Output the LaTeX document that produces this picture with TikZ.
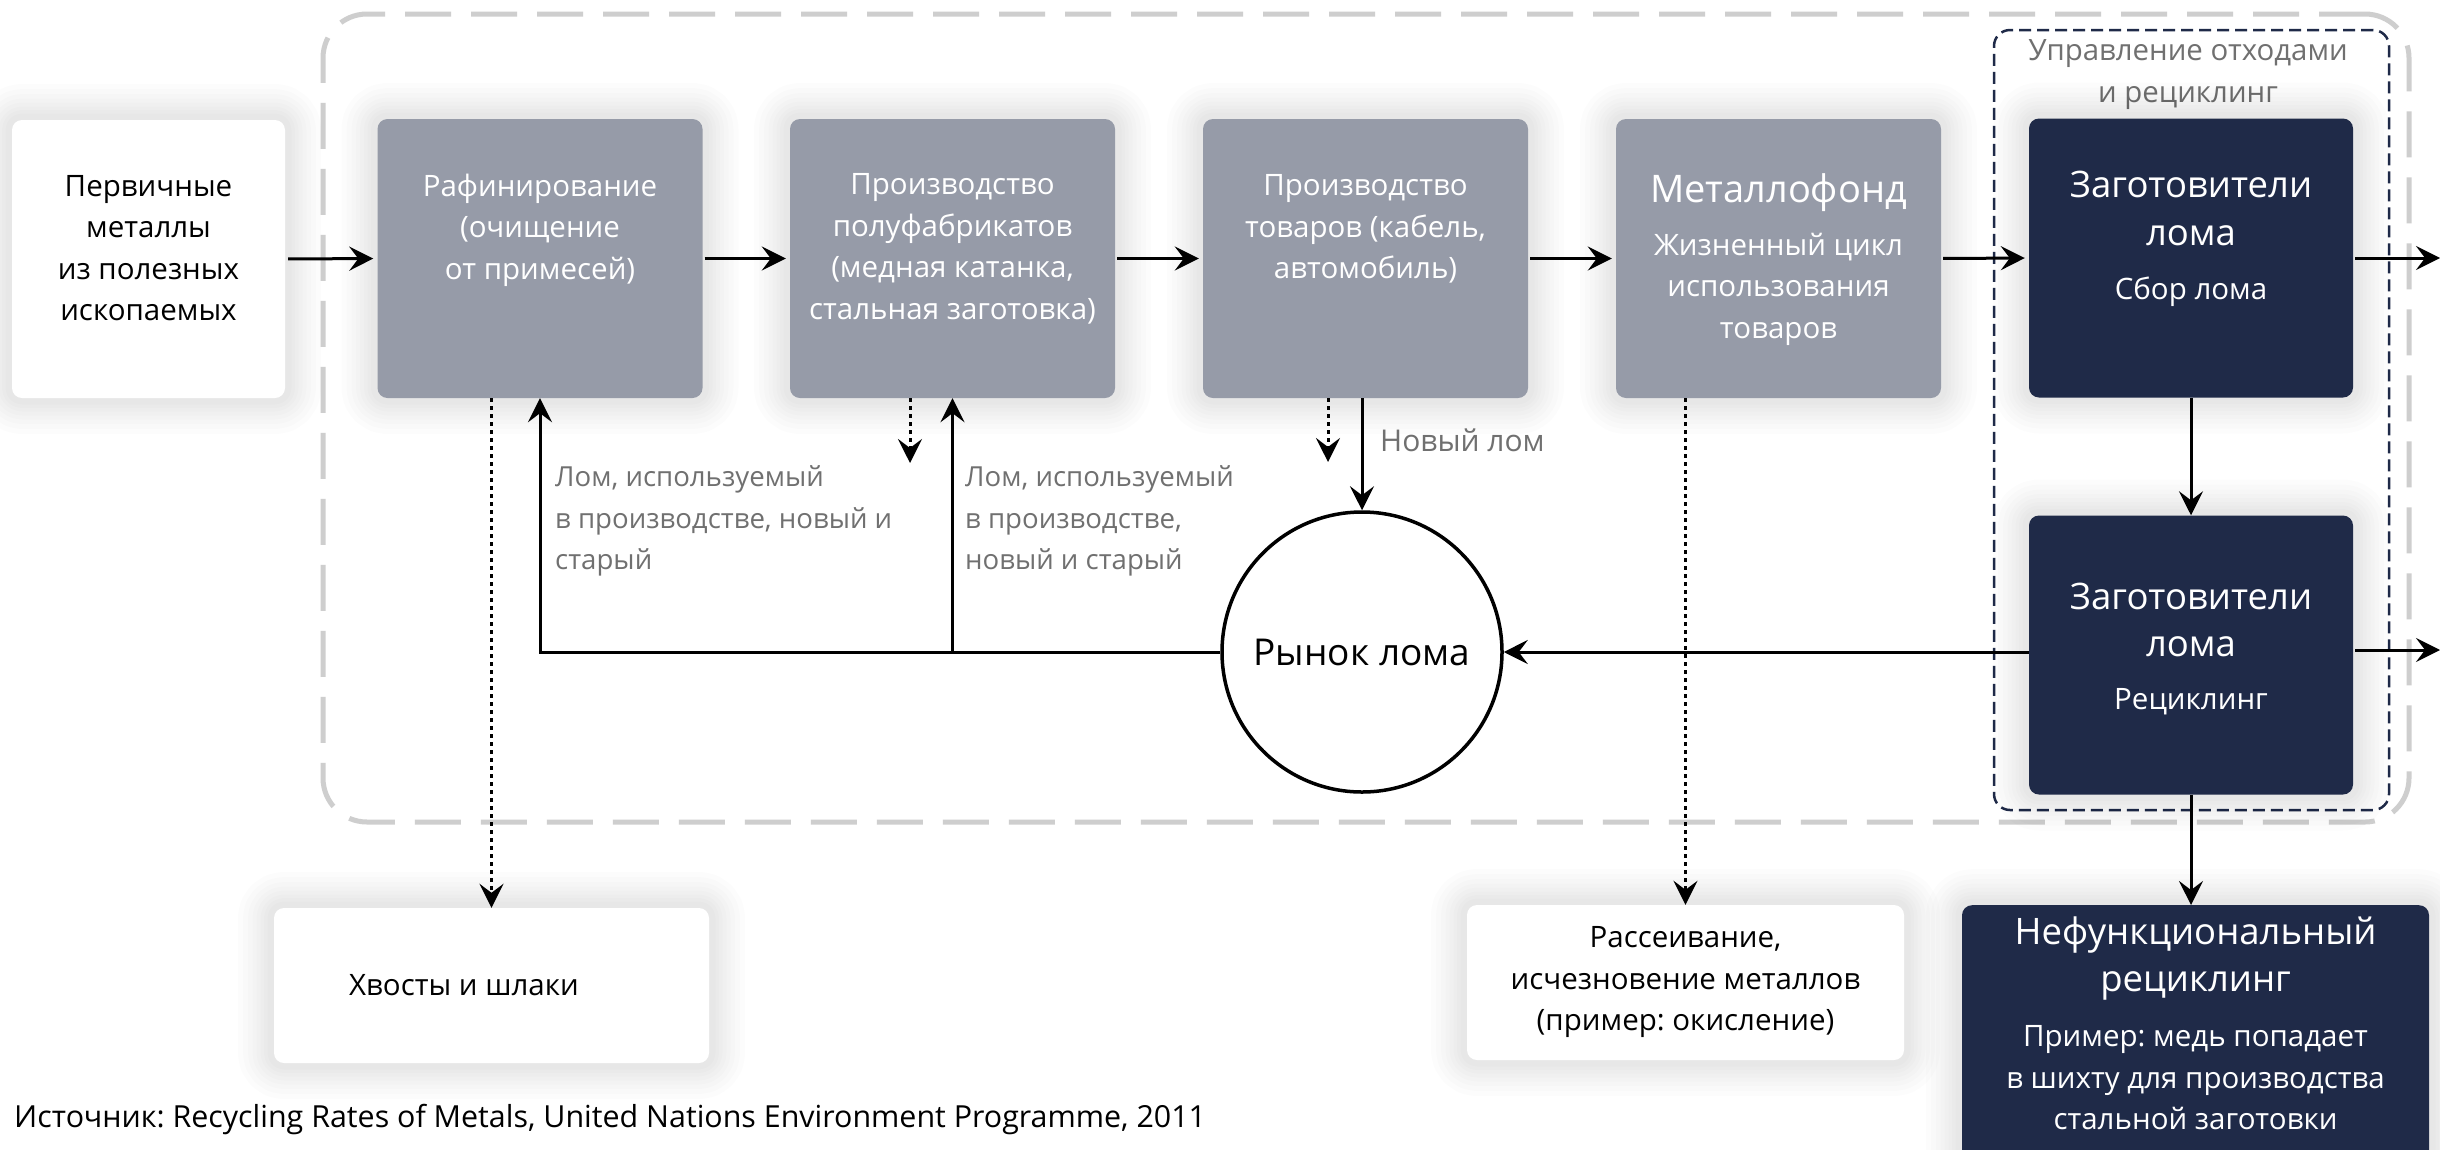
\documentclass[tikz,border=0pt]{standalone}
\usepackage{fontspec}
\setmainfont{Open Sans}
\frenchspacing
\usetikzlibrary{arrows.meta,calc}
\definecolor{boxgray}{RGB}{150,155,168}
\definecolor{navy}{RGB}{31,42,72}
\definecolor{lblgray}{RGB}{112,112,112}
\definecolor{framegray}{RGB}{206,206,206}
\begin{document}
\begin{tikzpicture}[x=1pt,y=-1pt,
  gl/.style={preaction={draw=black,draw opacity=0.013,line width=#1,line join=round}},
  shad/.style={gl=72pt,gl=62pt,gl=52pt,gl=43pt,gl=35pt,gl=27pt,gl=20pt,gl=13pt},
  boxbase/.style={rectangle,rounded corners=10pt,inner sep=0pt,shad},
  gbox/.style={boxbase,fill=boxgray,minimum width=325pt,minimum height=279pt},
  nbox/.style={boxbase,fill=navy,minimum width=324pt,minimum height=279pt},
  wbox/.style={boxbase,fill=white},
  body/.style={align=center,inner sep=0pt,font=\fontsize{29.5}{41.5}\selectfont},
  wbody/.style={body,text=white},
  ttl/.style={align=center,inner sep=0pt,text=white,font=\fontsize{36.5}{47.5}\selectfont},
  lbl/.style={align=left,inner sep=0pt,text=lblgray,font=\fontsize{27.6}{41.5}\selectfont},
  arr/.style={line width=3pt,-{Stealth[length=24pt,width=24pt,inset=9pt]}},
  dotarr/.style={arr,dash pattern=on 4pt off 4pt},
  outerframe/.style={draw=framegray,line width=5pt,dash pattern=on 46pt off 20pt,rounded corners=44pt,inner sep=0pt},
  wasteframe/.style={draw=navy,line width=2.5pt,dash pattern=on 12pt off 6pt,rounded corners=16pt,inner sep=0pt}
]
\fill[white] (0,0) rectangle (2440,1149);
\useasboundingbox (0,0) rectangle (2440,1149);

% frames
\node[outerframe,minimum width=2086pt,minimum height=808pt] (core) at (1366,418) {};
\node[wasteframe,minimum width=395pt,minimum height=780pt] (waste) at (2191.5,420) {};
\node[lbl,align=center,font=\fontsize{29.4}{42}\selectfont] (waste-t) at (2188,75) {Управление отходами\\и рециклинг};

% top row
\node[wbox,minimum width=273pt,minimum height=278pt] (prim) at (148.5,259) {};
\node[gbox] (ref) at (540,258.5) {};
\node[gbox] (semi) at (952.5,258.5) {};
\node[gbox] (goods) at (1365.5,258.5) {};
\node[gbox] (stock) at (1778.5,258.5) {};
\node[nbox] (coll) at (2191,258) {};
\node[nbox] (recy) at (2191,655) {};

% bottom row
\node[wbox,minimum width=435pt,minimum height=155pt] (tails) at (491.5,985.5) {};
\node[wbox,minimum width=437pt,minimum height=155pt] (disp) at (1685.5,982.5) {};
\node[boxbase,fill=navy,minimum width=467pt,minimum height=270pt,anchor=north] (nonf) at (2195.5,905) {};

% market
\node[circle,draw,line width=3.5pt,fill=white,minimum size=280pt,inner sep=0pt,font=\fontsize{37}{46}\selectfont] (mkt) at (1362,652) {Рынок лома};

% texts
\node[body] (prim-t) at (148.5,248) {Первичные\\металлы\\из полезных\\ископаемых};
\node[wbody] (ref-t) at (540,230) {Рафинирование\\(очищение\\от примесей)};
\node[wbody] (semi-t) at (952.5,249) {Производство\\полуфабрикатов\\(медная катанка,\\стальная заготовка)};
\node[wbody] (goods-t) at (1365.5,229) {Производство\\товаров (кабель,\\автомобиль)};
\node[ttl,font=\fontsize{38}{47.5}\selectfont] (stock-h) at (1778.5,193) {Металлофонд};
\node[wbody] (stock-t) at (1778.5,289) {Жизненный цикл\\использования\\товаров};
\node[ttl] (coll-h) at (2191,208.5) {Заготовители\\лома};
\node[wbody] (coll-t) at (2191,292) {Сбор лома};
\node[ttl] (recy-h) at (2191,620) {Заготовители\\лома};
\node[wbody] (recy-t) at (2191,702) {Рециклинг};
\node[ttl] (nonf-h) at (2195.5,958.5) {Нефункциональный\\рециклинг};
\node[wbody] (nonf-t) at (2195.5,1078) {Пример: медь попадает\\в шихту для производства\\стальной заготовки};
\node[body] (disp-t) at (1685.5,982) {Рассеивание,\\исчезновение металлов\\(пример: окисление)};
\node[body] (tails-t) at (464,985) {Хвосты и шлаки};

% labels
\node[lbl,anchor=west] (lab1) at (555,521) {Лом, используемый\\в производстве, новый и\\старый};
\node[lbl,anchor=west] (lab2) at (965,521) {Лом, используемый\\в производстве,\\новый и старый};
\node[lbl,anchor=west,font=\fontsize{30}{41.5}\selectfont] (lab3) at (1380,440) {Новый лом};
\node[body,anchor=west,align=left,font=\fontsize{30.4}{40}\selectfont] (src) at (14,1120) {Источник: Recycling Rates of Metals, United Nations Environment Programme, 2011};

% coordinates for free ends
\coordinate (collout) at (2440,258);
\coordinate (recyout) at (2440,650);
\coordinate (semiloss) at (910,463);
\coordinate (goodsloss) at (1328,462);

% main flow
\draw[arr,shorten <=3pt,shorten >=4pt] (prim.east) -- (ref.west);
\draw[arr,shorten <=2pt,shorten >=4pt] (ref.east) -- (semi.west);
\draw[arr,shorten <=2pt,shorten >=4pt] (semi.east) -- (goods.west);
\draw[arr,shorten <=2pt,shorten >=4pt] (goods.east) -- (stock.west);
\draw[arr,shorten <=2pt,shorten >=4pt] (stock.east) -- (coll.west);
\draw[arr,shorten <=2pt] (coll.east) -- (collout);
\draw[arr,shorten <=2pt] (recy.east |- recyout) -- (recyout);
\draw[arr] (coll.south) -- (recy.north);
\draw[arr] (recy.south) -- (recy.south |- nonf.north);
\draw[arr] (recy.west |- mkt.east) -- (mkt.east);
\draw[arr] (mkt.west) -| (ref.south);
\draw[arr] (semi.south |- mkt.west) -- (semi.south);
\draw[arr] (mkt.north |- goods.south) -- (mkt.north);

% losses
\draw[dotarr] (tails.north |- ref.south) -- (tails.north);
\draw[dotarr] (semiloss |- semi.south) -- (semiloss);
\draw[dotarr] (goodsloss |- goods.south) -- (goodsloss);
\draw[dotarr] (disp.north |- stock.south) -- (disp.north);
\end{tikzpicture}
\end{document}
